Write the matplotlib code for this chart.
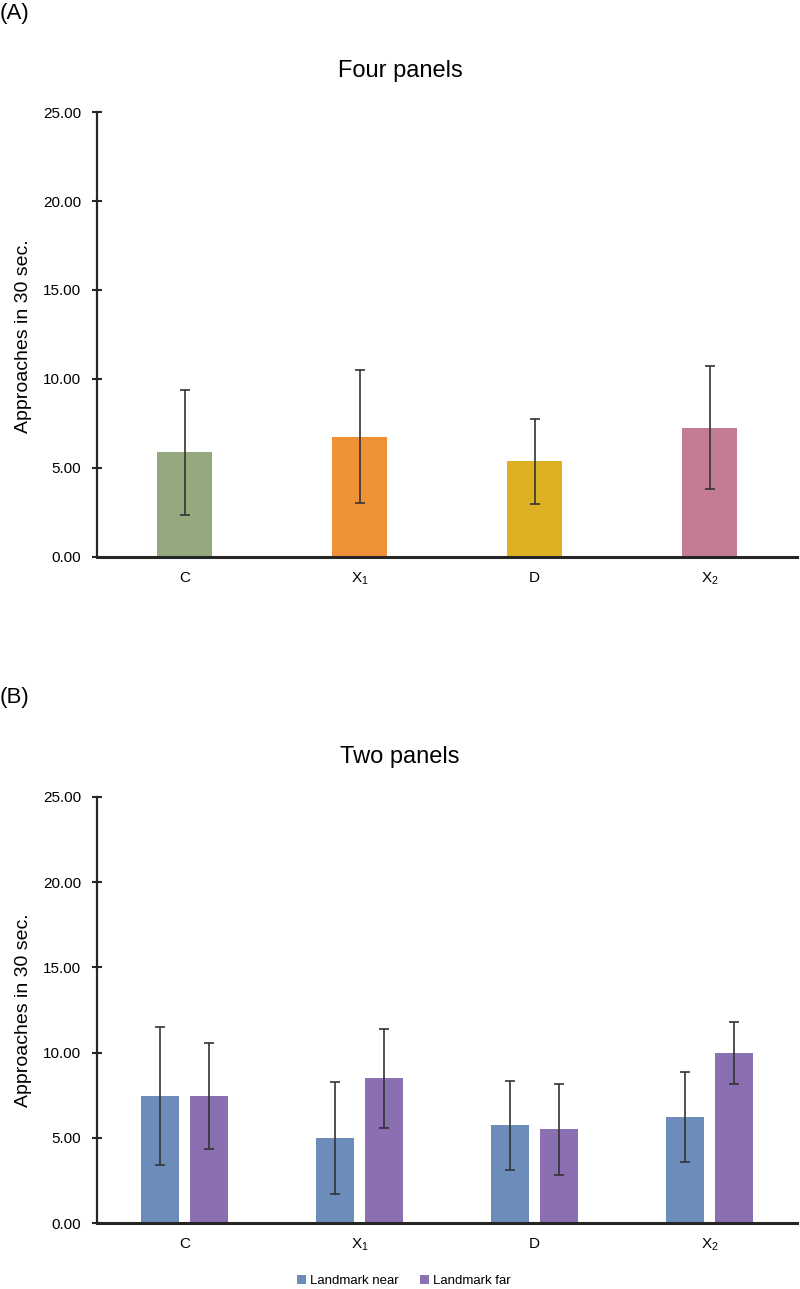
import numpy as np
import matplotlib
matplotlib.use("Agg")
import matplotlib.pyplot as plt
from matplotlib.ticker import FormatStrFormatter

plt.rcParams['font.family'] = ['Liberation Sans', 'DejaVu Sans']
plt.rcParams['mathtext.fontset'] = 'custom'
plt.rcParams['mathtext.rm'] = 'Liberation Sans'

# data
categories = ['C', r'X$\mathregular{_1}$', 'D', r'X$\mathregular{_2}$']
four_mean = [5.88, 6.76, 5.37, 7.27]
four_err = [3.51, 3.73, 2.38, 3.45]
four_colors = ['#95a97e', '#ef9236', '#deb023', '#c47c96']

near_mean = [7.47, 4.98, 5.74, 6.22]
near_err = [4.06, 3.28, 2.62, 2.66]
far_mean = [7.47, 8.49, 5.50, 9.99]
far_err = [3.10, 2.90, 2.66, 1.83]
series_names = ['Landmark near', 'Landmark far']
series_colors = ['#6c8dba', '#8a6fb1']

yticks = [0, 5, 10, 15, 20, 25]
axis_col = '#262626'
err_kw = dict(ecolor='#333333', elinewidth=1.2, capsize=3.3, capthick=1.2)


def style_axes(ax):
    ax.set_xlim(-0.5, 3.5)
    ax.set_ylim(0, 25)
    ax.set_yticks(yticks)
    ax.yaxis.set_major_formatter(FormatStrFormatter('%.2f'))
    ax.set_xticks(np.arange(len(categories)))
    ax.set_xticklabels(categories)
    for s in ['top', 'right']:
        ax.spines[s].set_visible(False)
    ax.spines['left'].set_linewidth(1.6)
    ax.spines['left'].set_color(axis_col)
    ax.spines['bottom'].set_linewidth(2.2)
    ax.spines['bottom'].set_color(axis_col)
    ax.tick_params(axis='y', direction='inout', length=7, width=1.5,
                   color=axis_col, labelsize=11, pad=8)
    ax.tick_params(axis='x', length=0, labelsize=11, pad=10)


fig = plt.figure(figsize=(8, 12.89), dpi=100)

# panel A
axA = fig.add_axes([0.1213, 0.5679, 0.875, 0.3452])
x = np.arange(len(categories))
axA.bar(x, four_mean, width=0.31, color=four_colors, yerr=four_err,
        error_kw=err_kw, zorder=2)
style_axes(axA)

# panel B
axB = fig.add_axes([0.1213, 0.0512, 0.875, 0.3305])
off = 0.141
axB.bar(x - off, near_mean, width=0.217, color=series_colors[0],
        yerr=near_err, error_kw=err_kw, label=series_names[0], zorder=2)
axB.bar(x + off, far_mean, width=0.217, color=series_colors[1],
        yerr=far_err, error_kw=err_kw, label=series_names[1], zorder=2)
style_axes(axB)

fig.legend(loc='center', bbox_to_anchor=(0.505, 1 - 1281 / 1289), ncol=2,
           frameon=False, fontsize=9.5, handlelength=0.7, handleheight=0.7,
           handletextpad=0.3, columnspacing=1.6)

# titles, panel letters, axis labels
fig.text(0.0, 1 - 13 / 1289, '(A)', fontsize=16, va='center', ha='left')
fig.text(0.0, 1 - 698 / 1289, '(B)', fontsize=16, va='center', ha='left')
fig.text(0.5, 1 - 71 / 1289, 'Four panels', fontsize=17, va='center', ha='center')
fig.text(0.5, 1 - 757 / 1289, 'Two panels', fontsize=17, va='center', ha='center')
fig.text(24 / 800, 1 - 336 / 1289, 'Approaches in 30 sec.', fontsize=14,
         rotation=90, va='center', ha='center')
fig.text(24 / 800, 1 - 1010 / 1289, 'Approaches in 30 sec.', fontsize=14,
         rotation=90, va='center', ha='center')

fig.savefig('out.png', dpi=100)
